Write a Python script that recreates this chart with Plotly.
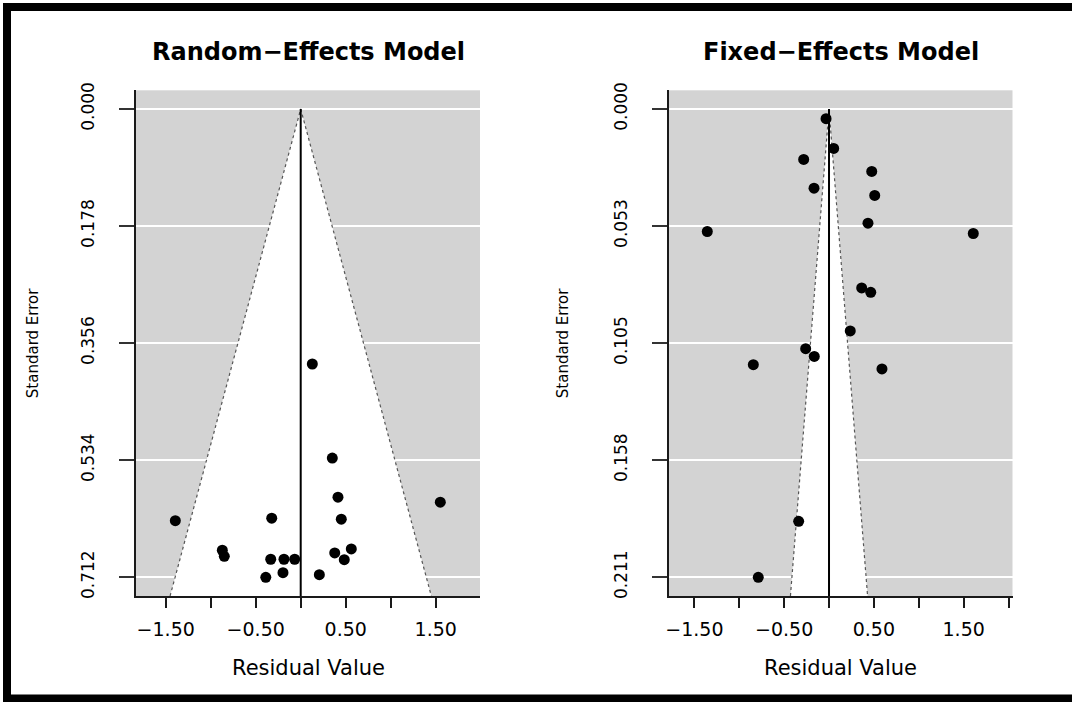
import plotly.graph_objects as go

W, H = 1072, 702

# ---------------- data ----------------
re_title = "Random\u2212Effects Model"
fe_title = "Fixed\u2212Effects Model"

re_resid = [0.129, 0.351, 0.414, 1.551, -1.393, -0.322, 0.451, -0.871, -0.849,
            0.562, 0.378, -0.333, -0.186, -0.067, 0.484, -0.197, -0.388, 0.207]
re_se = [0.3877, 0.5308, 0.5902, 0.5978, 0.6259, 0.6222, 0.6237, 0.6709, 0.6801,
         0.6689, 0.6750, 0.6846, 0.6846, 0.6846, 0.6852, 0.7050, 0.7120, 0.7081]

fe_resid = [-0.033, 0.052, -0.282, 0.476, -0.167, 0.509, 0.434, -1.356, 1.607,
            0.364, 0.465, 0.237, -0.260, -0.164, -0.843, 0.590, -0.338, -0.788]
fe_se = [0.00433, 0.01772, 0.02268, 0.02809, 0.03561, 0.03891, 0.05139, 0.05513, 0.05604,
         0.08052, 0.0825, 0.0999, 0.1079, 0.1114, 0.1151, 0.1170, 0.1856, 0.2108]

re_max_se = 0.712
fe_max_se = 0.2108
re_ytick_text = ["0.000", "0.178", "0.356", "0.534", "0.712"]
fe_ytick_text = ["0.000", "0.053", "0.105", "0.158", "0.211"]

x_tickvals = [-1.5, -1.0, -0.5, 0.0, 0.5, 1.0, 1.5, 2.0]
x_ticktext = ["\u22121.50", "", "\u22120.50", "", "0.50", "", "1.50", ""]

re_xrange = [-1.830, 1.992]
fe_xrange = [-1.788, 2.044]

# ---------------- layout geometry (pixels) ----------------
plot_top, plot_bot = 90.3, 596.0
left_dom = (136.0, 480.0)
right_dom = (668.5, 1012.5)

def px_x(p):
    return p / W

def px_y(p):
    return 1 - p / H

GRAY = "#d3d3d3"
FONT = "DejaVu Sans"

fig = go.Figure()

def add_panel(resid, se, max_se, xa, ya):
    yb = max_se * 1.04
    # white funnel region
    fig.add_trace(go.Scatter(
        x=[-1.96 * yb, 0, 1.96 * yb, -1.96 * yb], y=[yb, 0, yb, yb],
        mode="lines", fill="toself", fillcolor="white",
        line=dict(width=0, color="white"), hoverinfo="skip",
        xaxis=xa, yaxis=ya, showlegend=False))
    # dotted funnel edges
    fig.add_trace(go.Scatter(
        x=[-1.96 * yb, 0, 1.96 * yb], y=[yb, 0, yb],
        mode="lines", line=dict(width=1.2, color="#555555", dash="dot"),
        hoverinfo="skip", xaxis=xa, yaxis=ya, showlegend=False))
    # vertical reference line
    fig.add_trace(go.Scatter(
        x=[0, 0], y=[0, yb], mode="lines",
        line=dict(width=2, color="black"),
        hoverinfo="skip", xaxis=xa, yaxis=ya, showlegend=False))
    # points
    fig.add_trace(go.Scatter(
        x=resid, y=se, mode="markers",
        marker=dict(size=11, color="black", symbol="circle", line=dict(width=0)),
        xaxis=xa, yaxis=ya, showlegend=False))

add_panel(re_resid, re_se, re_max_se, "x", "y")
add_panel(fe_resid, fe_se, fe_max_se, "x2", "y2")

def xaxis_cfg(dom, rng, anchor):
    return dict(
        domain=[px_x(dom[0]), px_x(dom[1])], range=rng, anchor=anchor,
        automargin=False,
        showgrid=False, zeroline=False,
        showline=True, linecolor="#1a1a1a", linewidth=2,
        ticks="outside", ticklen=10, tickwidth=2, tickcolor="#1a1a1a",
        tickmode="array", tickvals=x_tickvals, ticktext=x_ticktext,
        tickfont=dict(family=FONT, size=19, color="black"),
        ticklabelstandoff=5,
    )

def yaxis_cfg(max_se, texts, anchor):
    return dict(
        domain=[px_y(plot_bot), px_y(plot_top)],
        range=[max_se * 1.04, -max_se * 0.04], anchor=anchor,
        automargin=False,
        showgrid=True, gridcolor="white", gridwidth=1.5,
        zeroline=False,
        showline=True, linecolor="#1a1a1a", linewidth=2,
        ticks="outside", ticklen=15, tickwidth=1.5, tickcolor="#333333",
        tickmode="array", tickvals=[max_se * k / 4 for k in range(5)],
        ticktext=texts, tickangle=-90,
        tickfont=dict(family=FONT, size=17, color="black"),
        ticklabelstandoff=18,
    )

fig.update_layout(
    width=W, height=H,
    margin=dict(l=0, r=0, t=0, b=0, autoexpand=False),
    paper_bgcolor="white", plot_bgcolor=GRAY,
    xaxis=xaxis_cfg(left_dom, re_xrange, "y"),
    yaxis=yaxis_cfg(re_max_se, re_ytick_text, "x"),
    xaxis2=xaxis_cfg(right_dom, fe_xrange, "y2"),
    yaxis2=yaxis_cfg(fe_max_se, fe_ytick_text, "x2"),
    showlegend=False,
)

annotations = []
for dom, title, ytx in [(left_dom, re_title, 33), (right_dom, fe_title, 563)]:
    cx = (dom[0] + dom[1]) / 2
    annotations.append(dict(
        text=f"<b>{title}</b>", x=px_x(cx), y=px_y(52), xref="paper", yref="paper",
        xanchor="center", yanchor="middle", showarrow=False,
        font=dict(family=FONT, size=24, color="black")))
    annotations.append(dict(
        text="Residual Value", x=px_x(cx), y=px_y(668), xref="paper", yref="paper",
        xanchor="center", yanchor="middle", showarrow=False,
        font=dict(family=FONT, size=21, color="black")))
    annotations.append(dict(
        text="Standard Error", x=px_x(ytx), y=px_y((plot_top + plot_bot) / 2),
        xref="paper", yref="paper", textangle=-90,
        xanchor="center", yanchor="middle", showarrow=False,
        font=dict(family=FONT, size=15, color="black")))
fig.update_layout(annotations=annotations)

# outer black frame
fig.add_shape(type="rect", xref="paper", yref="paper",
              x0=px_x(7), y0=px_y(698.5), x1=px_x(1090), y1=px_y(7),
              line=dict(color="black", width=8), fillcolor="rgba(0,0,0,0)", layer="above")

fig.write_html(
    "out.html",
    config={"responsive": False, "displayModeBar": False},
    post_script="document.body.style.margin='0';document.body.style.overflow='hidden';",
)
